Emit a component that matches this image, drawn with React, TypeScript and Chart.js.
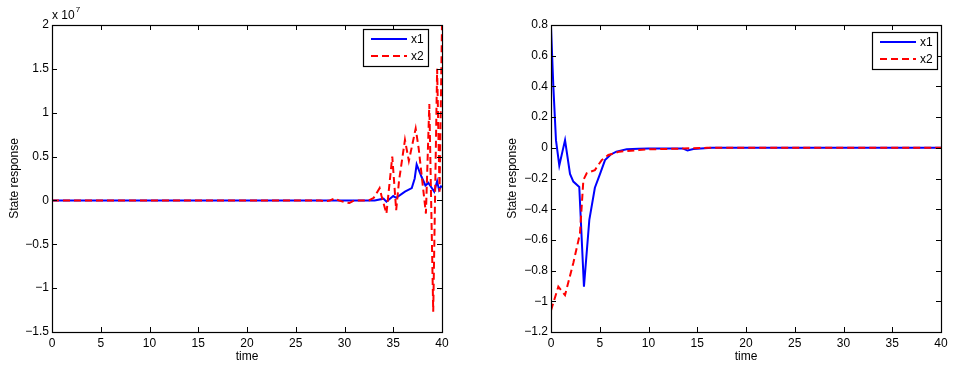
import React, { useEffect, useRef } from "react";
import { Chart, registerables } from "chart.js";

Chart.register(...registerables);

// ---------- Left chart (values in units of 1e7) ----------
const L_X1_T = [0, 32.5, 33.1, 34, 34.3, 35, 35.3, 36.2, 36.9, 37.2, 37.4, 37.9, 38.3, 38.6, 38.9, 39.2, 39.5, 39.7, 39.9, 40];
const L_X1_V = [0, 0, 0, 0.02, -0.015, 0.05, 0.03, 0.1, 0.14, 0.25, 0.41, 0.27, 0.17, 0.2, 0.15, 0.1, 0.22, 0.12, 0.16, 0.15];
const L_X2_T = [0, 27.5, 28, 28.5, 29, 29.4, 30, 30.5, 31, 32.5, 33, 33.6, 33.8, 34.3, 34.9, 35.3, 35.6, 36.2, 36.6, 37.3, 37.6, 38.35, 38.7, 39.1, 39.5, 39.75, 40];
const L_X2_V = [0, 0, -0.01, 0, 0.025, 0, -0.02, -0.03, 0, 0, 0.03, 0.14, 0.05, -0.15, 0.5, -0.11, 0.23, 0.69, 0.45, 0.82, 0.6, -0.15, 1.1, -1.27, 1.5, 0.1, 2.0];

// ---------- Right chart ----------
const R_X1_T = [0, 0.24, 0.51, 0.85, 1.44, 1.95, 2.29, 2.9, 3.38, 3.93, 4.5, 5.03, 5.54, 6.1, 6.7, 7.76, 9, 10, 13.5, 14, 14.6, 16.5, 40];
const R_X1_V = [0.79, 0.4, 0.05, -0.115, 0.05, -0.17, -0.22, -0.255, -0.905, -0.47, -0.26, -0.17, -0.08, -0.045, -0.025, -0.01, -0.006, -0.004, -0.004, -0.018, -0.008, 0, 0];
const R_X2_T = [0, 0.75, 1.44, 2.29, 2.97, 3.15, 3.32, 3.66, 4.5, 5.2, 5.88, 7, 9, 10, 13.5, 16, 40];
const R_X2_V = [-1.06, -0.905, -0.96, -0.75, -0.56, -0.38, -0.21, -0.166, -0.145, -0.08, -0.047, -0.025, -0.015, -0.01, -0.005, 0, 0];

const X_TICKS = { min: 0, max: 40, step: 5 };
const L_Y_TICKS = { min: -1.5, max: 2, step: 0.5 };
const R_Y_TICKS = { min: -1.2, max: 0.8, step: 0.2 };

const SERIES_NAMES = ["x1", "x2"];
const X_TITLE = "time";
const Y_TITLE = "State response";

const FONT = "'Liberation Sans', Arial, Helvetica, sans-serif";

function fmt(v: number): string {
  let s = String(parseFloat(Number(v).toFixed(4)));
  if (s === "-0") s = "0";
  return s.replace("-", "\u2212");
}

function pts(t: number[], v: number[]) {
  return t.map((x, i) => ({ x, y: v[i] }));
}

type Cfg = {
  yTitleX: number;
  legend: { left: number; top: number; w: number; h: number };
  exponent: boolean;
};

function makePlugin(cfg: Cfg) {
  return {
    id: "matlabFrame",
    afterDraw(chart: any) {
      const ctx = chart.ctx as CanvasRenderingContext2D;
      const a = chart.chartArea;
      const xs = chart.scales.x;
      const ys = chart.scales.y;
      ctx.save();
      // box
      ctx.strokeStyle = "#000";
      ctx.lineWidth = 1.2;
      ctx.strokeRect(Math.round(a.left) + 0.5, Math.round(a.top) + 0.5, Math.round(a.right - a.left), Math.round(a.bottom - a.top));
      // inward ticks
      const tl = 5;
      ctx.lineWidth = 1;
      ctx.beginPath();
      xs.ticks.forEach((t: any) => {
        const px = Math.round(xs.getPixelForValue(t.value)) + 0.5;
        ctx.moveTo(px, a.bottom);
        ctx.lineTo(px, a.bottom - tl);
        ctx.moveTo(px, a.top);
        ctx.lineTo(px, a.top + tl);
      });
      ys.ticks.forEach((t: any) => {
        const py = Math.round(ys.getPixelForValue(t.value)) + 0.5;
        ctx.moveTo(a.left, py);
        ctx.lineTo(a.left + tl, py);
        ctx.moveTo(a.right, py);
        ctx.lineTo(a.right - tl, py);
      });
      ctx.stroke();

      // titles
      ctx.fillStyle = "#000";
      ctx.font = `12px ${FONT}`;
      ctx.textAlign = "center";
      ctx.textBaseline = "middle";
      ctx.fillText(X_TITLE, (a.left + a.right) / 2, 357);
      ctx.save();
      ctx.translate(cfg.yTitleX, (a.top + a.bottom) / 2);
      ctx.rotate(-Math.PI / 2);
      ctx.fillText(Y_TITLE, 0, 0);
      ctx.restore();

      if (cfg.exponent) {
        ctx.textAlign = "left";
        ctx.textBaseline = "alphabetic";
        ctx.font = `12px ${FONT}`;
        ctx.fillText("x 10", a.left, 19);
        const w = ctx.measureText("x 10").width;
        ctx.font = `8px ${FONT}`;
        ctx.fillText("7", a.left + w + 1, 12);
      }

      // legend
      const L = cfg.legend;
      ctx.fillStyle = "#fff";
      ctx.fillRect(L.left, L.top, L.w, L.h);
      ctx.strokeStyle = "#000";
      ctx.lineWidth = 1.2;
      ctx.strokeRect(L.left + 0.5, L.top + 0.5, L.w, L.h);
      const rows = [L.top + 10, L.top + 27];
      chart.data.datasets.forEach((ds: any, i: number) => {
        const y = rows[i];
        ctx.save();
        ctx.strokeStyle = ds.borderColor;
        ctx.lineWidth = ds.borderWidth;
        ctx.setLineDash(ds.borderDash || []);
        ctx.beginPath();
        ctx.moveTo(L.left + 8, y);
        ctx.lineTo(L.left + 44, y);
        ctx.stroke();
        ctx.restore();
        ctx.fillStyle = "#000";
        ctx.font = `12px ${FONT}`;
        ctx.textAlign = "left";
        ctx.textBaseline = "middle";
        ctx.fillText(ds.label, L.left + 48, y + 1);
      });
      ctx.restore();
    },
  };
}

function buildConfig(
  x1: { x: number; y: number }[],
  x2: { x: number; y: number }[],
  yt: { min: number; max: number; step: number },
  yAxisWidth: number,
  padRight: number,
  cfg: Cfg
): any {
  return {
    type: "line",
    data: {
      datasets: [
        { label: SERIES_NAMES[0], data: x1, borderColor: "#0000ff", borderWidth: 2, pointRadius: 0, tension: 0, order: 2, fill: false },
        { label: SERIES_NAMES[1], data: x2, borderColor: "#ff0000", borderWidth: 2, borderDash: [7, 4], pointRadius: 0, tension: 0, order: 1, fill: false },
      ],
    },
    options: {
      animation: false,
      responsive: false,
      events: [],
      layout: { padding: { left: 0, right: padRight, top: 25, bottom: 0 } },
      plugins: { legend: { display: false }, tooltip: { enabled: false }, title: { display: false } },
      scales: {
        x: {
          type: "linear",
          min: X_TICKS.min,
          max: X_TICKS.max,
          grid: { display: false, drawTicks: false },
          border: { display: false },
          ticks: { stepSize: X_TICKS.step, padding: 4, color: "#000", autoSkip: false, maxRotation: 0, font: { family: FONT, size: 12 }, callback: (v: any) => fmt(v) },
          afterFit: (s: any) => { s.height = 35; },
        },
        y: {
          type: "linear",
          min: yt.min,
          max: yt.max,
          grid: { display: false, drawTicks: false },
          border: { display: false },
          ticks: { stepSize: yt.step, padding: 3, color: "#000", autoSkip: false, font: { family: FONT, size: 12 }, callback: (v: any) => fmt(v) },
          afterFit: (s: any) => { s.width = yAxisWidth; },
        },
      },
    },
    plugins: [makePlugin(cfg)],
  };
}

function ChartCanvas({ config, left }: { config: () => any; left: number }) {
  const ref = useRef<HTMLCanvasElement | null>(null);
  useEffect(() => {
    if (!ref.current) return;
    const c = new Chart(ref.current, config());
    return () => c.destroy();
  }, []);
  return (
    <canvas
      ref={ref}
      width={478}
      height={367}
      style={{ position: "absolute", left, top: 0, width: 478, height: 367, display: "block" }}
    />
  );
}

export default function App() {
  return (
    <div style={{ position: "absolute", left: 0, top: 0, width: 956, height: 367, background: "#fff", overflow: "hidden" }}>
      <ChartCanvas
        left={0}
        config={() =>
          buildConfig(pts(L_X1_T, L_X1_V), pts(L_X2_T, L_X2_V), L_Y_TICKS, 52, 36, {
            yTitleX: 15,
            legend: { left: 363, top: 29, w: 65, h: 37 },
            exponent: true,
          })
        }
      />
      <ChartCanvas
        left={478}
        config={() =>
          buildConfig(pts(R_X1_T, R_X1_V), pts(R_X2_T, R_X2_V), R_Y_TICKS, 73, 15, {
            yTitleX: 35,
            legend: { left: 394, top: 32, w: 65, h: 37 },
            exponent: false,
          })
        }
      />
    </div>
  );
}
